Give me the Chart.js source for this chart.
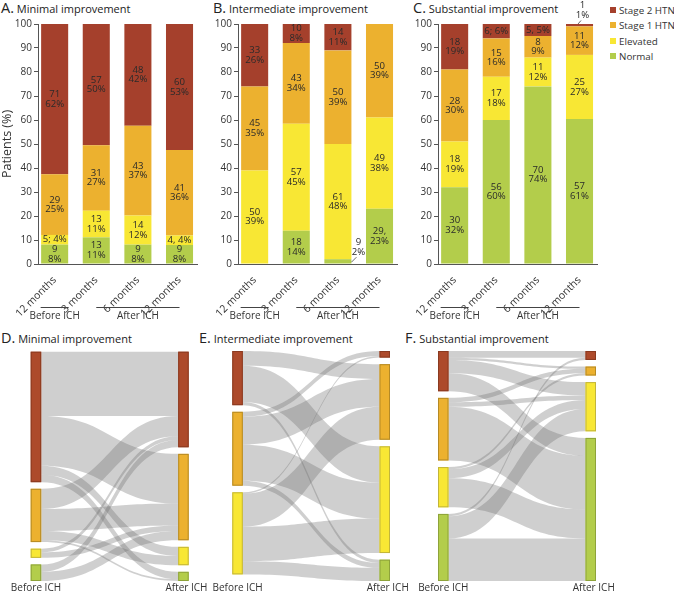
<!DOCTYPE html>
<html lang="en">
<head>
<meta charset="utf-8"/>
<title>Blood pressure category by improvement group</title>
<script src="https://cdn.jsdelivr.net/npm/chart.js"></script>
<style>
body { margin: 0; background: #fff; font-family: 'Open Sans', sans-serif; color: #333; }
#wrap { position: relative; width: 674px; height: 593px; overflow: hidden; }
canvas { position: absolute; }
.title { position: absolute; white-space: nowrap; font-size: 11px; line-height: 16px; color: #222; }
.title b { font-weight: normal; font-size: 14.5px; }
.leg { position: absolute; left: 610px; font-size: 9.8px; line-height: 12px; white-space: nowrap; color: #333; }
.leg span { display: inline-block; width: 6px; height: 6px; margin-right: 3px; vertical-align: 1px; }
</style>
</head>
<body>
<div id="wrap">
  <div class="title" style="left:1px;top:0px"><b>A.</b> Minimal improvement</div>
  <div class="title" style="left:213px;top:0px"><b>B.</b> Intermediate improvement</div>
  <div class="title" style="left:413px;top:0px"><b>C.</b> Substantial improvement</div>
  <div class="title" style="left:1px;top:330px"><b>D.</b> Minimal improvement</div>
  <div class="title" style="left:199px;top:330px"><b>E.</b> Intermediate improvement</div>
  <div class="title" style="left:405px;top:330px"><b>F.</b> Substantial improvement</div>

  <div class="leg" style="top:5px"><span style="background:#A5402C"></span>Stage 2 HTN</div>
  <div class="leg" style="top:20px"><span style="background:#ECB12F"></span>Stage 1 HTN</div>
  <div class="leg" style="top:36px"><span style="background:#F8E734"></span>Elevated</div>
  <div class="leg" style="top:51px"><span style="background:#B3CD4B"></span>Normal</div>

  <canvas id="barA" width="200" height="330" style="left:0;top:0"></canvas>
  <canvas id="barB" width="200" height="330" style="left:200px;top:0"></canvas>
  <canvas id="barC" width="200" height="330" style="left:400px;top:0"></canvas>
  <canvas id="flowD" width="220" height="263" style="left:0;top:330px"></canvas>
  <canvas id="flowE" width="220" height="263" style="left:200px;top:330px"></canvas>
  <canvas id="flowF" width="274" height="263" style="left:400px;top:330px"></canvas>
</div>
<script>
const periods = ['12 months', '3 months', '6 months', '12 months'];
const seriesNames = ['Normal', 'Elevated', 'Stage 1 HTN', 'Stage 2 HTN'];
const seriesColors = ['#B3CD4B', '#F8E734', '#ECB12F', '#A5402C'];

// rows: Normal, Elevated, Stage 1 HTN, Stage 2 HTN; columns: periods
const countsA = [[9, 13, 9, 9], [5, 13, 14, 4], [29, 31, 43, 41], [71, 57, 48, 60]];
const pctA = [[8, 11, 8, 8], [4, 11, 12, 4], [25, 27, 37, 36], [62, 50, 42, 53]];
const countsB = [[0, 18, 9, 29], [50, 57, 61, 49], [45, 43, 50, 50], [33, 10, 14, 0]];
const pctB = [[0, 14, 2, 23], [39, 45, 48, 38], [35, 34, 39, 39], [26, 8, 11, 0]];
const countsC = [[30, 56, 70, 57], [18, 17, 11, 25], [28, 15, 8, 11], [18, 6, 5, 1]];
const pctC = [[32, 60, 74, 61], [19, 18, 12, 27], [30, 16, 9, 12], [19, 6, 5, 1]];

// label separators that differ from the usual line break ("series,period")
const sepA = { '1,0': '; ', '1,3': ', ' };
const sepB = { '0,3': ',\n' };
const sepC = { '3,1': '; ', '3,2': ', ' };
// labels drawn outside their segment
const outsideB = { '0,2': 'right' };
const outsideC = { '3,3': 'top' };

// sankey: rows = before ICH, cols = after ICH; order Stage 2, Stage 1, Elevated, Normal
const flowLevels = ['Stage 2 HTN', 'Stage 1 HTN', 'Elevated', 'Normal'];
const flowsD = [[35, 27, 5, 4], [11, 12, 5, 1], [2, 3, 0, 0], [4, 5, 0, 0]];
const flowsE = [[0, 9, 22, 2], [3, 17, 22, 3], [1, 20, 21, 8], [0, 0, 0, 0]];
const flowsF = [[3, 1, 6, 8], [0, 2, 2, 24], [0, 1, 4, 13], [1, 0, 10, 19]];

const nodeColors = ['#AD4A2B', '#ECB12F', '#F8E734', '#B3CD4B'];
const nodeEdges = ['#8a3a20', '#b58a25', '#c2b53a', '#8ea33a'];

Chart.defaults.font.family = "'Open Sans', sans-serif";
Chart.defaults.color = '#333';

function makeBars(id, counts, pcts, seps, outside, yTitle) {
  const heights = pcts.map(row => row.map((p, i) => {
    const tot = pcts.reduce((a, r) => a + r[i], 0);
    return p / tot * 100;
  }));

  const labelPlugin = {
    id: 'segLabels',
    afterDatasetsDraw(chart) {
      const ctx = chart.ctx;
      ctx.save();
      ctx.font = '9.6px "Open Sans"';
      ctx.fillStyle = '#2a2a2a';
      ctx.strokeStyle = '#444';
      ctx.lineWidth = 0.8;
      ctx.textAlign = 'center';
      ctx.textBaseline = 'middle';
      counts.forEach((row, s) => {
        const meta = chart.getDatasetMeta(s);
        meta.data.forEach((el, i) => {
          if (!row[i]) return;
          const key = s + ',' + i;
          const sep = seps[key] !== undefined ? seps[key] : '\n';
          const lines = (row[i] + sep + pcts[s][i] + '%').split('\n');
          const p = el.getProps(['x', 'y', 'base', 'width'], true);
          let cx = p.x, cy = (p.y + p.base) / 2;
          if (outside[key] === 'right') {
            const r = p.x + p.width / 2;
            cx = r + 7; cy = p.y - 12;
            ctx.beginPath(); ctx.moveTo(r, p.y + 3); ctx.lineTo(r + 5, p.y - 2); ctx.stroke();
          } else if (outside[key] === 'top') {
            cx = p.x + 3; cy = p.y - 13.5;
            ctx.beginPath(); ctx.moveTo(p.x - 1.5, p.y); ctx.lineTo(p.x + 1.5, p.y - 3.5); ctx.stroke();
          }
          lines.forEach((ln, k) => ctx.fillText(ln, cx, cy + (k - (lines.length - 1) / 2) * 9.6));
        });
      });
      ctx.restore();
    }
  };

  const groupPlugin = {
    id: 'groups',
    afterDraw(chart) {
      const ctx = chart.ctx, x = chart.scales.x;
      const p = [0, 1, 2, 3].map(v => x.getPixelForValue(v));
      ctx.save();
      ctx.strokeStyle = '#444';
      ctx.lineWidth = 1;
      ctx.beginPath();
      ctx.moveTo(p[0] - 14, 307.5); ctx.lineTo(p[0] + 14, 307.5);
      ctx.moveTo(p[1], 307.5); ctx.lineTo(p[3], 307.5);
      ctx.stroke();
      ctx.fillStyle = '#333';
      ctx.font = '10px "Open Sans"';
      ctx.textAlign = 'center';
      ctx.textBaseline = 'middle';
      ctx.fillText('Before ICH', p[0], 316.5);
      ctx.fillText('After ICH', p[2], 316.5);
      ctx.restore();
    }
  };

  return new Chart(document.getElementById(id), {
    type: 'bar',
    data: {
      datasets: seriesNames.map((name, s) => ({
        label: name,
        data: heights[s].map((v, i) => ({ x: i, y: v })),
        backgroundColor: seriesColors[s],
        borderWidth: 0,
        barPercentage: 0.65,
        categoryPercentage: 1
      }))
    },
    options: {
      responsive: false,
      animation: false,
      events: [],
      layout: { padding: { left: 0, right: 3, top: 24, bottom: 0 } },
      plugins: { legend: { display: false }, tooltip: { enabled: false } },
      scales: {
        x: {
          type: 'linear',
          stacked: true,
          offset: false,
          min: -0.4,
          max: 3.42,
          afterBuildTicks: s => { s.ticks = [0, 1, 2, 3].map(v => ({ value: v })); },
          afterFit: s => { s.height = 66; },
          grid: { display: false },
          border: { display: true, color: '#555', width: 1 },
          ticks: {
            autoSkip: false,
            minRotation: 45,
            maxRotation: 45,
            padding: 2,
            font: { size: 10.5 },
            color: '#333',
            callback: v => periods[v]
          }
        },
        y: {
          stacked: true,
          min: 0,
          max: 100,
          afterFit: s => { s.width = 38; },
          grid: { drawOnChartArea: false, drawTicks: true, tickLength: 4, color: '#555' },
          border: { display: true, color: '#555', width: 1 },
          ticks: { stepSize: 10, padding: 2, font: { size: 10 }, color: '#333' },
          title: { display: yTitle, text: 'Patients (%)', font: { size: 12.5 }, color: '#333', padding: 0 }
        }
      }
    },
    plugins: [labelPlugin, groupPlugin]
  });
}

function makeSankey(id, flows, padding) {
  const before = flows.map(r => r.reduce((a, b) => a + b, 0));
  const after = flowLevels.map((_, j) => flows.reduce((a, r) => a + r[j], 0));
  const total = before.reduce((a, b) => a + b, 0);
  const gap = total * 0.0315;
  const stack = vals => {
    let y = 0;
    return vals.map(v => {
      if (!v) return null;
      const n = { y0: y, y1: y + v };
      y += v + gap;
      return n;
    });
  };
  const leftNodes = stack(before), rightNodes = stack(after);
  const nodeW = 10.5;

  const sankeyPlugin = {
    id: 'sankey',
    afterDatasetsDraw(chart) {
      const { ctx, scales: { x, y } } = chart;
      const xl = x.getPixelForValue(0), xr = x.getPixelForValue(1);
      const outOff = leftNodes.map(n => n && n.y0);
      const inOff = rightNodes.map(n => n && n.y0);
      ctx.save();
      ctx.fillStyle = 'rgba(110,110,110,0.33)';
      flows.forEach((row, i) => row.forEach((v, j) => {
        if (!v) return;
        const s0 = y.getPixelForValue(outOff[i]), s1 = y.getPixelForValue(outOff[i] + v);
        const t0 = y.getPixelForValue(inOff[j]), t1 = y.getPixelForValue(inOff[j] + v);
        outOff[i] += v;
        inOff[j] += v;
        const x0 = xl + nodeW, x1 = xr - nodeW, xm = (x0 + x1) / 2;
        ctx.beginPath();
        ctx.moveTo(x0, s0);
        ctx.bezierCurveTo(xm, s0, xm, t0, x1, t0);
        ctx.lineTo(x1, t1);
        ctx.bezierCurveTo(xm, t1, xm, s1, x0, s1);
        ctx.closePath();
        ctx.fill();
      }));
      [[leftNodes, xl], [rightNodes, xr - nodeW]].forEach(([nodes, nx]) => nodes.forEach((n, k) => {
        if (!n) return;
        const top = y.getPixelForValue(n.y0), bot = y.getPixelForValue(n.y1);
        ctx.fillStyle = nodeColors[k];
        ctx.fillRect(nx, top, nodeW, bot - top);
        ctx.strokeStyle = nodeEdges[k];
        ctx.lineWidth = 1;
        ctx.strokeRect(nx + 0.5, top + 0.5, nodeW - 1, bot - top - 1);
      }));
      ctx.fillStyle = '#333';
      ctx.font = '10px "Open Sans"';
      ctx.textAlign = 'center';
      ctx.textBaseline = 'middle';
      const ly = chart.chartArea.bottom + 7;
      ctx.fillText('Before ICH', xl + nodeW / 2, ly);
      ctx.fillText('After ICH', xr - nodeW / 2 + 3, ly);
      ctx.restore();
    }
  };

  return new Chart(document.getElementById(id), {
    type: 'scatter',
    data: { datasets: [{ data: [] }] },
    options: {
      responsive: false,
      animation: false,
      events: [],
      layout: { padding: padding },
      plugins: { legend: { display: false }, tooltip: { enabled: false } },
      scales: {
        x: { type: 'linear', min: 0, max: 1, display: false },
        y: { type: 'linear', min: 0, max: total + 3 * gap, reverse: true, display: false }
      }
    },
    plugins: [sankeyPlugin]
  });
}

makeBars('barA', countsA, pctA, sepA, {}, true);
makeBars('barB', countsB, pctB, sepB, outsideB, false);
makeBars('barC', countsC, pctC, sepC, outsideC, false);

makeSankey('flowD', flowsD, { left: 30.7, right: 31.3, top: 21.7, bottom: 12 });
makeSankey('flowE', flowsE, { left: 32.3, right: 30, top: 21, bottom: 12 });
makeSankey('flowF', flowsF, { left: 38, right: 78, top: 21, bottom: 12 });
</script>
</body>
</html>
